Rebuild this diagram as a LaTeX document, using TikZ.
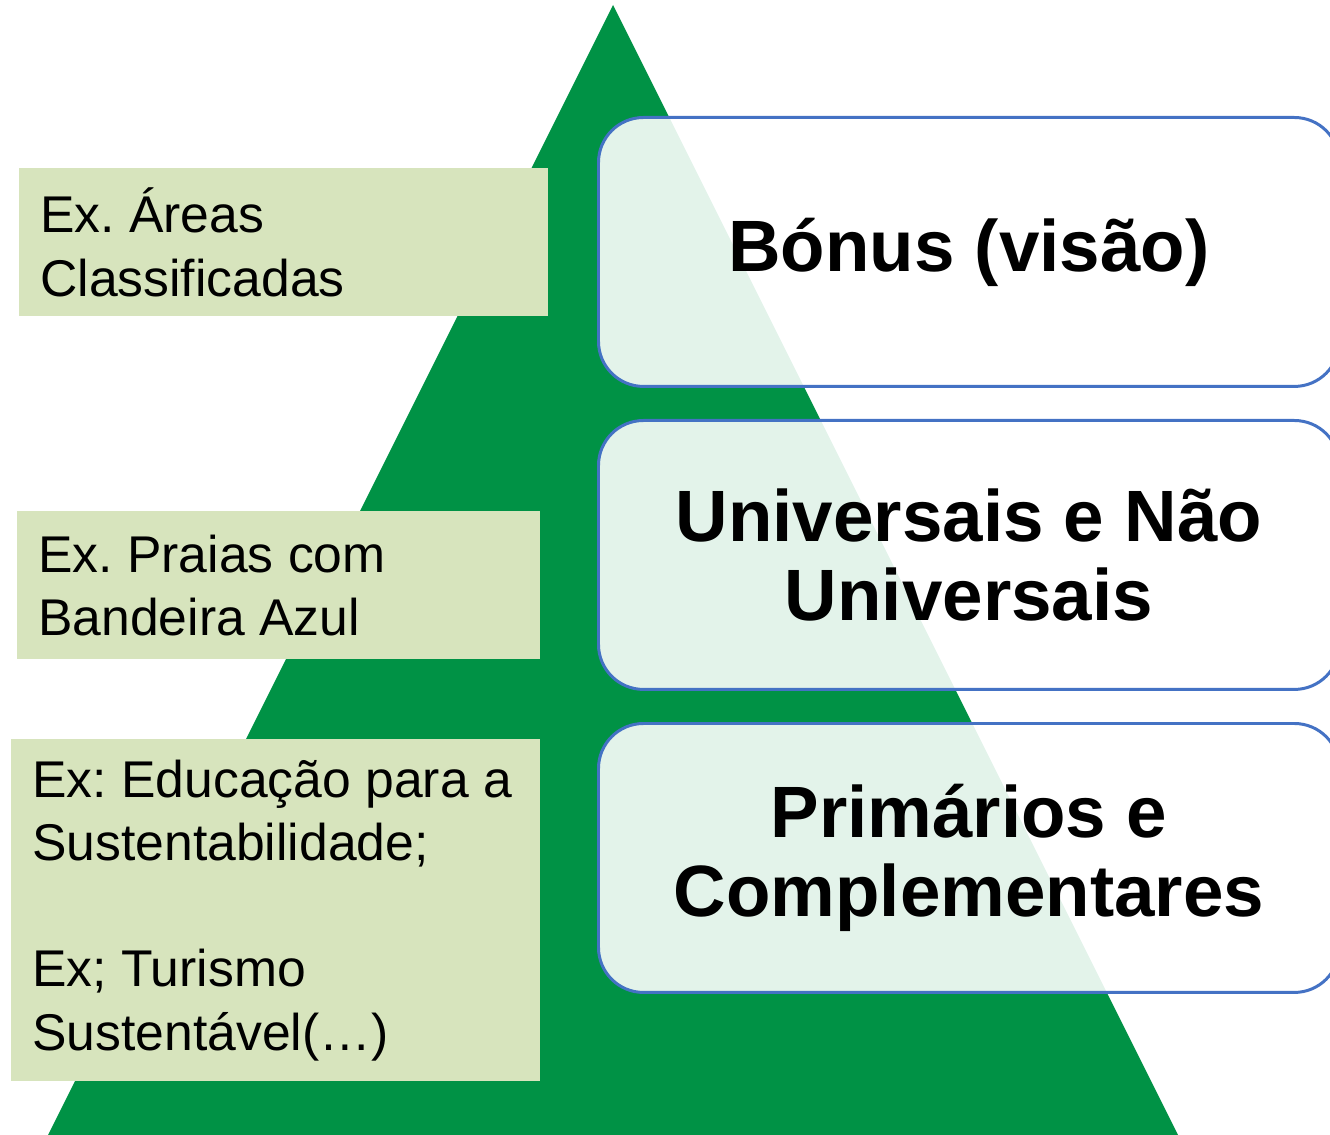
\documentclass[tikz,border=0pt]{standalone}
\usepackage{fontspec}
\setmainfont{Liberation Sans}
\usepackage{tikz}
\usepackage{xcolor}
\usetikzlibrary{positioning}

\definecolor{pyrgreen}{RGB}{0,146,69}
\definecolor{exgreen}{RGB}{215,228,189}
\definecolor{levelblue}{RGB}{68,114,196}

\tikzset{
  levelbox/.style={draw=levelblue, line width=1.7pt, fill=white, fill opacity=0.89, text opacity=1,
    rounded corners=0.9cm, minimum width=14.82cm, minimum height=5.38cm, anchor=north west,
    align=center, inner sep=0pt, font=\fontsize{41.4}{45.4}\selectfont\bfseries},
  exbox/.style={fill=exgreen, anchor=north west, align=flush left, inner xsep=0.42cm, inner ysep=0pt,
    minimum height=2.96cm, font=\fontsize{29.4}{36}\selectfont\frenchspacing}
}

\begin{document}
\begin{tikzpicture}[x=0.02cm, y=-0.02cm]
\useasboundingbox (0,0) rectangle (1330,1135);
\clip (0,0) rectangle (1330,1135);

% Pyramid
\fill[pyrgreen] (613,5) -- (1180,1139) -- (46,1139) -- cycle;

% Levels
\node[levelbox] (bonus) at (597,116) {B\'onus (vis\~ao)};
\node[levelbox] (univ) at (597,419) {Universais e N\~ao\\Universais};
\node[levelbox] (prim) at (597,722) {Prim\'arios e\\Complementares};

% Examples
\node[exbox, text width=9.74cm] (areas) at (19,168) {Ex. \'Areas\\Classificadas};
\node[exbox, text width=9.62cm] (praias) at (17,511) {Ex. Praias com\\Bandeira Azul};
\node[exbox, text width=9.74cm, minimum height=6.84cm] (educ) at (11,739)
  {Ex: Educa\c{c}\~ao para a\\Sustentabilidade;\\[36pt]Ex; Turismo\\Sustent\'avel(…)};
\end{tikzpicture}
\end{document}
